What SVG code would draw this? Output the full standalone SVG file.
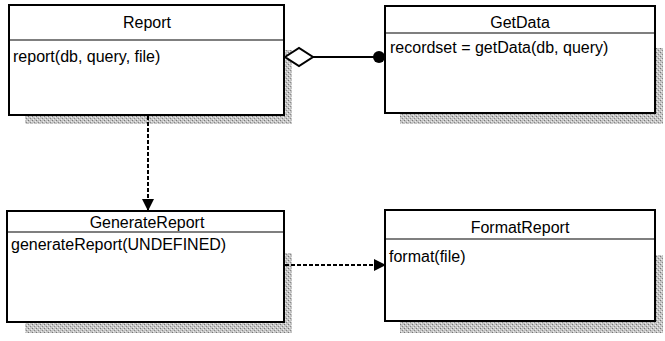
<svg xmlns="http://www.w3.org/2000/svg" width="665" height="341" viewBox="0 0 665 341">
<style>
.box{fill:#fff;stroke:#000;stroke-width:2}
.div{stroke:#000;stroke-width:1.2}
.sh{fill:url(#stip);stroke:none}
text{font-family:"Liberation Sans",Arial,sans-serif;font-size:16px;fill:#000}
.t{text-anchor:middle}
.conn{stroke:#000;stroke-width:2;fill:none}
.dash{stroke-dasharray:4 2}
</style>
<defs>
<pattern id="stip" width="4" height="4" patternUnits="userSpaceOnUse">
<rect width="4" height="4" fill="#c4c4c4"/>
<rect x="0" y="0" width="1" height="1" fill="#777"/>
<rect x="2" y="2" width="1" height="1" fill="#888"/>
<rect x="3" y="1" width="1" height="1" fill="#eee"/>
<rect x="1" y="3" width="1" height="1" fill="#eee"/>
</pattern>
<marker id="arr" markerWidth="12" markerHeight="12" refX="11" refY="6" orient="auto" markerUnits="userSpaceOnUse">
<path d="M0,0 L12,6 L0,12 Z" fill="#000"/>
</marker>
</defs>
<g id="Report">
<path class="sh" d="M284,50 H292 V124 H25 V115 H284 Z"/>
<rect class="box" x="9" y="5" width="275" height="110"/>
<line class="div" x1="9" y1="40" x2="284" y2="40"/>
<text class="t" x="147" y="28">Report</text>
<text x="13" y="62">report(db, query, file)</text>
</g>
<g id="GetData">
<path class="sh" d="M655,48 H663 V124 H400 V113 H655 Z"/>
<rect class="box" x="385" y="6" width="270" height="107"/>
<line class="div" x1="385" y1="33" x2="655" y2="33"/>
<text class="t" x="520" y="28">GetData</text>
<text x="390" y="53">recordset = getData(db, query)</text>
</g>
<g id="GenerateReport">
<path class="sh" d="M284,253 H292 V333 H25 V322 H284 Z"/>
<rect class="box" x="7" y="211" width="277" height="111"/>
<line class="div" x1="7" y1="232" x2="284" y2="232"/>
<text class="t" x="147" y="228">GenerateReport</text>
<text x="11" y="250">generateReport(UNDEFINED)</text>
</g>
<g id="FormatReport">
<path class="sh" d="M655,255 H663 V333 H400 V321 H655 Z"/>
<rect class="box" x="385" y="210" width="270" height="111"/>
<line class="div" x1="385" y1="239" x2="655" y2="239"/>
<text class="t" x="520" y="233">FormatReport</text>
<text x="389" y="262">format(file)</text>
</g>
<g id="connectors">
<line class="conn" x1="313" y1="57" x2="378" y2="57"/>
<path d="M285,57 L299,48 L313,57 L299,66 Z" fill="#fff" stroke="#000" stroke-width="2"/>
<circle cx="379" cy="57" r="6" fill="#000"/>
<line class="conn dash" x1="148" y1="116" x2="148" y2="210" marker-end="url(#arr)"/>
<line class="conn dash" x1="285" y1="265" x2="385" y2="265" marker-end="url(#arr)"/>
</g>
</svg>
